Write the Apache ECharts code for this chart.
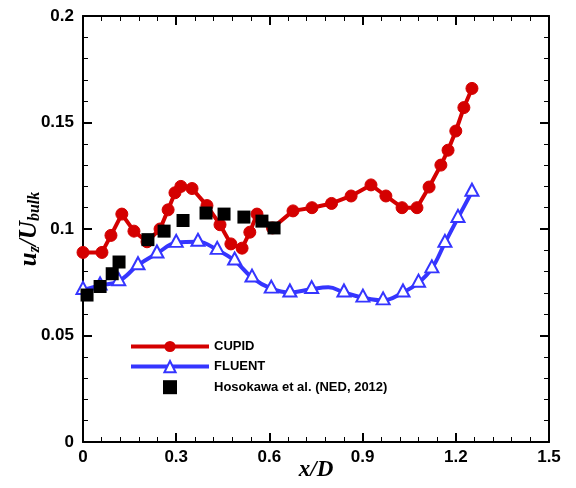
<!DOCTYPE html>
<html><head><meta charset="utf-8">
<script src="https://cdn.jsdelivr.net/npm/echarts@6/dist/echarts.min.js"></script>
<style>html,body{margin:0;padding:0;background:#fff}#c{width:576px;height:488px}</style>
</head><body><div id="c"></div>
<script>
const cupidX = [0,0.061,0.09,0.125,0.164,0.206,0.248,0.274,0.296,0.315,0.351,0.399,0.441,0.476,0.512,0.537,0.56,0.61,0.676,0.737,0.80,0.863,0.927,0.975,1.027,1.075,1.114,1.152,1.175,1.20,1.226,1.252];
const cupidY = [0.089,0.089,0.097,0.107,0.099,0.094,0.100,0.109,0.117,0.120,0.119,0.111,0.102,0.093,0.091,0.0985,0.107,0.1005,0.1085,0.110,0.112,0.1155,0.1207,0.1155,0.110,0.110,0.1197,0.130,0.137,0.146,0.157,0.166];
const fluentX = [0,0.055,0.115,0.177,0.238,0.30,0.37,0.432,0.488,0.544,0.606,0.666,0.736,0.79,0.84,0.901,0.966,1.03,1.08,1.123,1.165,1.207,1.252];
const fluentY = [0.0714,0.0735,0.0755,0.083,0.0885,0.0935,0.094,0.0902,0.0852,0.0772,0.072,0.0702,0.0718,0.0726,0.0702,0.0678,0.0665,0.0702,0.0748,0.0815,0.0935,0.1052,0.1175];
const fluentMarker = [1,1,1,1,1,1,1,1,1,1,1,1,1,0,1,1,1,1,1,1,1,1,1];
const expX = [0.013,0.055,0.094,0.116,0.209,0.261,0.322,0.396,0.454,0.518,0.576,0.615];
const expY = [0.069,0.073,0.079,0.0845,0.095,0.099,0.104,0.1075,0.107,0.1056,0.1037,0.1005];
const seriesNames = ['CUPID','FLUENT','Hosokawa et al. (NED, 2012)'];
const xTicks = {min:0,max:1.5,interval:0.3};
const yTicks = {min:0,max:0.2,interval:0.05};

const RED='#d40000', BLUE='#3535ff';
const cupidData = cupidX.map((x,i)=>[x,cupidY[i]]);
const fluentData = fluentX.map((x,i)=> fluentMarker[i] ? [x,fluentY[i]] : {value:[x,fluentY[i]],symbol:'none'});
const expData = expX.map((x,i)=>[x,expY[i]]);

const labelFont = {fontFamily:'Liberation Sans, Arial', fontWeight:'bold', fontSize:17, color:'#000'};
function fmt(v){ if(v===0) return '0'; return String(Math.round(v*100)/100); }
const axisCommon = {
  axisLine:{show:true,onZero:false,lineStyle:{color:'#000',width:2}},
  axisTick:{show:true,inside:true,length:9,lineStyle:{color:'#000',width:2}},
  minorTick:{show:true,splitNumber:5,length:5,lineStyle:{color:'#000',width:1}},
  splitLine:{show:false}
};
const chart = echarts.init(document.getElementById('c'),null,{renderer:'canvas'});
chart.setOption({
  animation:false,
  backgroundColor:'#fff',
  grid:{left:83,right:27,top:16,bottom:46,containLabel:false,outerBoundsMode:'none'},
  legend:{
    orient:'vertical', left:124, top:335, itemWidth:78, itemHeight:14, itemGap:7,
    lineStyle:{width:4},
    textStyle:{fontFamily:'Liberation Sans, Arial', fontWeight:'bold', fontSize:13, color:'#000'},
    data:[{name:seriesNames[0]},{name:seriesNames[1]},{name:seriesNames[2],icon:'path://M0,0h10v10h-10z'}]
  },
  xAxis:[
    Object.assign({type:'value',position:'bottom',min:xTicks.min,max:xTicks.max,interval:xTicks.interval,
      name:'x/D',nameLocation:'middle',nameGap:17,nameMoveOverlap:false,
      nameTextStyle:{fontFamily:'Liberation Serif, Times New Roman',fontStyle:'italic',fontWeight:'bold',fontSize:23,color:'#000'},
      axisLabel:Object.assign({margin:7,formatter:fmt},labelFont)},axisCommon),
    Object.assign({type:'value',position:'top',min:xTicks.min,max:xTicks.max,interval:xTicks.interval,axisLabel:{show:false}},axisCommon)
  ],
  yAxis:[
    Object.assign({type:'value',position:'left',min:yTicks.min,max:yTicks.max,interval:yTicks.interval,
      name:'{m|u}{s|z}{m|/U}{s|bulk}',nameLocation:'middle',nameGap:40,nameRotate:90,nameMoveOverlap:false,
      nameTextStyle:{rich:{
        m:{fontFamily:'Liberation Serif, Times New Roman',fontStyle:'italic',fontWeight:'bold',fontSize:25,color:'#000',lineHeight:26,verticalAlign:'top'},
        s:{fontFamily:'Liberation Serif, Times New Roman',fontStyle:'italic',fontWeight:'bold',fontSize:16,color:'#000',lineHeight:14,verticalAlign:'bottom'}
      }},
      axisLabel:Object.assign({margin:9,formatter:fmt},labelFont)},axisCommon),
    Object.assign({type:'value',position:'right',min:yTicks.min,max:yTicks.max,interval:yTicks.interval,axisLabel:{show:false}},axisCommon)
  ],
  series:[
    {name:seriesNames[0],type:'line',data:cupidData,smooth:false,symbol:'circle',symbolSize:12,
     lineStyle:{color:RED,width:4},itemStyle:{color:RED,borderColor:RED},z:2},
    {name:seriesNames[1],type:'line',data:fluentData,smooth:0.4,symbol:'triangle',symbolSize:[13,12],symbolOffset:[0,-2],
     lineStyle:{color:BLUE,width:4},itemStyle:{color:'#fff',borderColor:BLUE,borderWidth:2},z:3},
    {name:seriesNames[2],type:'scatter',data:expData,symbol:'rect',symbolSize:13,
     itemStyle:{color:'#000',opacity:1},z:4}
  ]
});
</script></body></html>
